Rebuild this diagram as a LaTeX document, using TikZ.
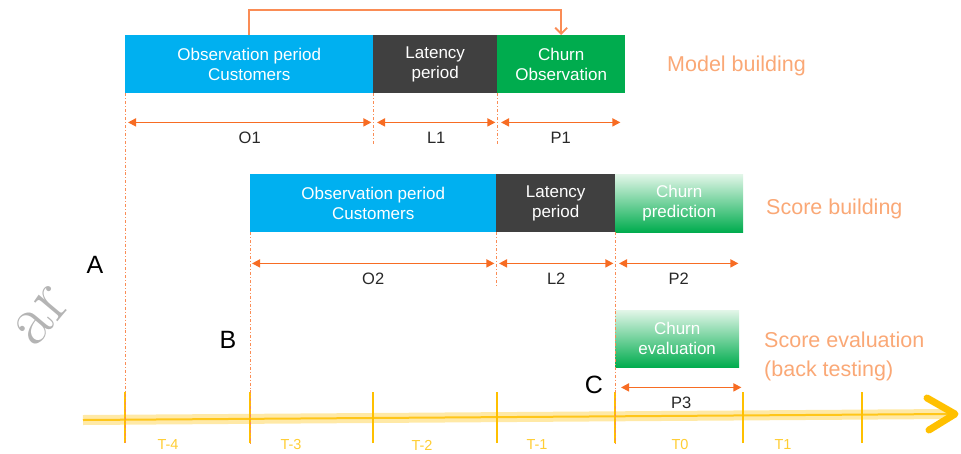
\documentclass[tikz,border=0pt]{standalone}
\usepackage{fontspec}
\setsansfont{Liberation Sans}
\usepackage{tikz}
\usetikzlibrary{calc, positioning, arrows.meta}
\definecolor{ObsBlue}{RGB}{0, 176, 240}
\definecolor{LatGrey}{RGB}{64, 64, 64}
\definecolor{ChurnGreen}{RGB}{0, 172, 78}
\definecolor{PaleGreen}{RGB}{226, 246, 232}
\definecolor{DimOrange}{RGB}{247, 108, 35}
\definecolor{GuideOrange}{RGB}{250, 140, 85}
\definecolor{Salmon}{RGB}{250, 168, 118}
\definecolor{AxisGold}{RGB}{255, 192, 0}
\definecolor{InkGrey}{RGB}{40, 40, 40}
\definecolor{MarkGrey}{RGB}{180, 180, 180}

\begin{document}
\begin{tikzpicture}[x=1pt, y=-1pt, font=\sffamily,
    period/.style={anchor=north west, minimum height=58pt, inner sep=0pt, text=white, align=center, font=\sffamily\fontsize{17}{20}\selectfont},
    fade/.style={period, top color=PaleGreen, middle color=PaleGreen!60!ChurnGreen, bottom color=ChurnGreen},
    dim/.style={DimOrange, line width=1.6pt, {Triangle[length=8pt,width=8pt]}-{Triangle[length=8pt,width=8pt]}},
    dimlab/.style={below=9pt, inner sep=0pt, text=InkGrey, font=\sffamily\fontsize{16.5}{18}\selectfont},
    guide/.style={GuideOrange, line width=0.9pt, dash dot},
    feedback/.style={GuideOrange, line width=1.8pt, -{Straight Barb[length=6pt,width=12pt]}},
    tickline/.style={AxisGold, line width=2pt},
    period label/.style={inner sep=0pt, text=AxisGold!80, font=\sffamily\fontsize{14.5}{16}\selectfont},
    phase/.style={anchor=west, inner sep=0pt, text=Salmon, align=left, font=\sffamily\fontsize{21.5}{29}\selectfont},
    letter/.style={inner sep=0pt, text=black, font=\sffamily\fontsize{25}{25}\selectfont}]
    \useasboundingbox (0,0) rectangle (961,453);

    % Model building
    \node[period, fill=ObsBlue, minimum width=248pt] (obs1) at (125,35) {Observation period\\Customers};
    \node[period, fill=LatGrey, minimum width=124pt] (lat1) at (373,35) {Latency\\period};
    \node[period, fill=ChurnGreen, minimum width=128pt] (churn1) at (497,35) {Churn\\Observation};
    \node[phase] (model) at (667,66) {Model building};
    \draw[feedback] (obs1.north) -- ++(0,-25) -| (churn1.north);
    \draw[dim] ($(obs1.south west)+(3,29)$) -- node[dimlab] {O1} ($(obs1.south east)+(-2,29)$);
    \draw[dim] ($(lat1.south west)+(4,29)$) -- node[dimlab] {L1} ($(lat1.south east)+(-2,29)$);
    \draw[dim] ($(churn1.south west)+(4,29)$) -- node[dimlab] {P1} ($(churn1.south east)+(-5,29)$);

    % Score building
    \node[period, fill=ObsBlue, minimum width=246pt] (obs2) at (250,174) {Observation period\\Customers};
    \node[period, fill=LatGrey, minimum width=119pt] (lat2) at (496,174) {Latency\\period};
    \node[fade, minimum width=128pt] (pred) at (615,174) {Churn\\prediction};
    \node[phase] (score) at (766,209) {Score building};
    \draw[dim] ($(obs2.south west)+(2,31)$) -- node[dimlab] {O2} ($(obs2.south east)+(-2,31)$);
    \draw[dim] ($(lat2.south west)+(3,31)$) -- node[dimlab] {L2} ($(lat2.south east)+(-2,31)$);
    \draw[dim] ($(pred.south west)+(4,31)$) -- node[dimlab] {P2} ($(pred.south east)+(-5,31)$);

    % Score evaluation
    \node[fade, minimum width=124pt, minimum height=57pt] (eval) at (615,310) {Churn\\evaluation};
    \node[phase] (backtest) at (764,356) {Score evaluation\\(back testing)};
    \draw[dim] ($(eval.south west)+(6,20)$) -- node[dimlab] {P3} ($(eval.south east)+(2,20)$);

    % Time axis
    \coordinate (tail) at (83,420);
    \coordinate (tip) at (955,414);
    \coordinate (t4) at (125,443);
    \coordinate (t3) at (250,443);
    \coordinate (t2) at (373,443);
    \coordinate (t1) at (497,443);
    \coordinate (t0) at (615,443);
    \coordinate (tp1) at (743,443);
    \coordinate (tp2) at (862,443);
    \draw[AxisGold!35, line width=10pt] (tail) -- ($(tip)+(-6,0)$);
    \draw[AxisGold!90, line width=2pt] (tail) -- ($(tip)+(-6,0)$);
    \draw[AxisGold, line width=7pt, line cap=round, line join=round] ($(tip)+(-28,-16)$) -- (tip) -- ($(tip)+(-26,16)$);
    \draw[tickline] (t4) -- ++(0,-51);
    \draw[tickline] (t3) -- ++(0,-51);
    \draw[tickline] (t2) -- ++(0,-51);
    \draw[tickline] (t1) -- ++(0,-51);
    \draw[tickline] (t0) -- ++(0,-51);
    \draw[tickline] (tp1) -- ++(0,-51);
    \draw[tickline] (tp2) -- ++(0,-51);
    \node[period label] (lbl4) at (168,445) {T-4};
    \node[period label] (lbl3) at (291,445) {T-3};
    \node[period label] (lbl2) at (422,445) {T-2};
    \node[period label] (lbl1) at (537,445) {T-1};
    \node[period label] (lbl0) at (680,445) {T0};
    \node[period label] (lblp1) at (783,445) {T1};

    % Guides
    \draw[guide] (obs1.south west) -- (t4);
    \draw[guide] (lat1.south west) -- ++(0,52);
    \draw[guide] (churn1.south west) -- ++(0,52);
    \draw[guide] (obs2.south west) -- (t3);
    \draw[guide] (lat2.south west) -- ++(0,53);
    \draw[guide] (pred.south west) -- (t0);

    % Start points
    \node[letter] (markA) at (95,265) {A};
    \node[letter] (markB) at (228,340) {B};
    \node[letter] (markC) at (594,385) {C};
    \node[rotate=50, inner sep=0pt, text=MarkGrey, font=\rmfamily\fontsize{72}{72}\selectfont] (stamp) at (42,316) {ar};
\end{tikzpicture}
\end{document}
